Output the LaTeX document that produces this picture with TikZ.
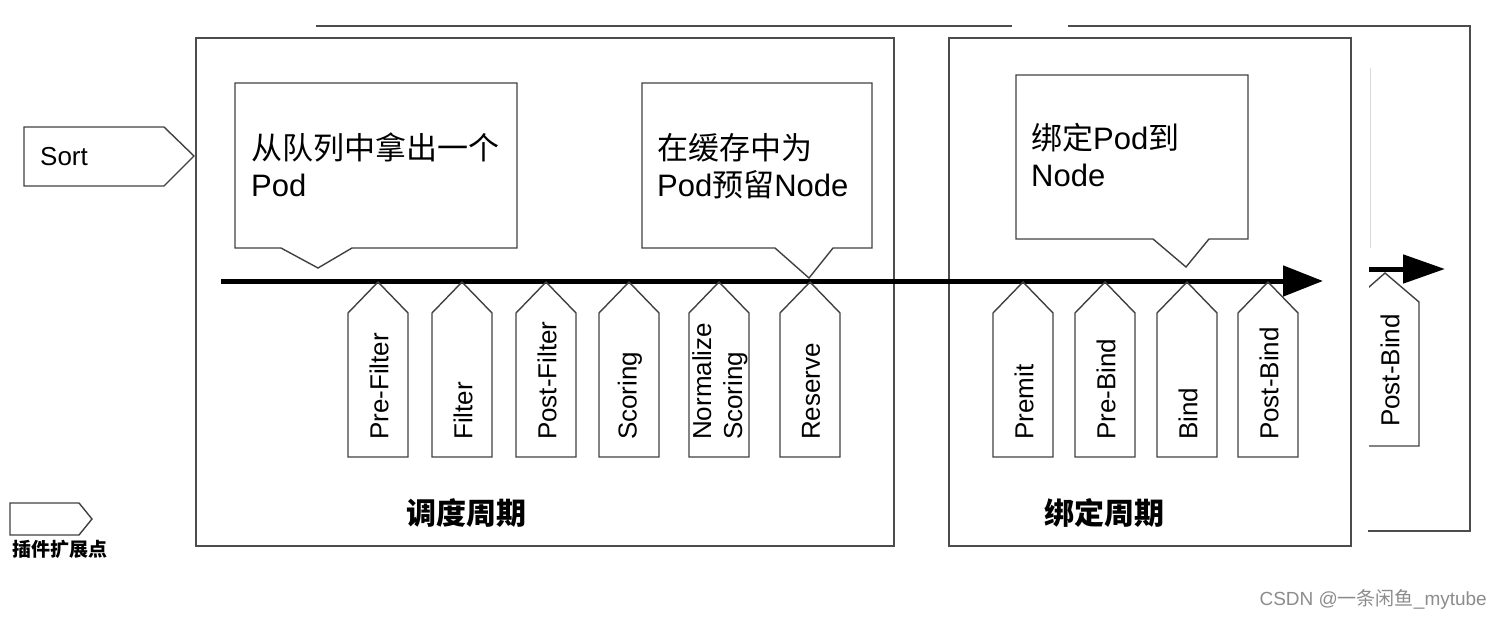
\documentclass[tikz,border=0pt]{standalone}
\usepackage{fontspec}
\setmainfont{Liberation Sans}
\newfontfamily\cjk{Noto Sans CJK SC}
\usetikzlibrary{arrows.meta}

\tikzset{
  frame/.style={draw=black!70, line width=1.6pt},
  outline/.style={draw=black!75, line width=1.4pt, line join=miter},
  tagtext/.style={rotate=90, anchor=west, inner sep=0pt, align=left,
    font=\fontsize{26}{31}\selectfont},
  saytext/.style={anchor=north west, inner sep=0pt, align=left,
    font=\fontsize{31}{37}\selectfont},
  cycletext/.style={inner sep=0pt, font=\fontsize{30}{30}\selectfont\cjk\bfseries},
  flow/.style={line width=5pt, -{Triangle[length=40pt,width=30pt]}},
}

\begin{document}
\begin{tikzpicture}[x=1pt,y=-1pt]
  \useasboundingbox (0,0) rectangle (1502,618);

  % frame of the next cycle, partly hidden
  \draw[frame] (316,26) -- (1012,26);
  \draw[frame] (1068,26) -- (1470,26) -- (1470,531) -- (1368,531);
  \draw[black!15, line width=1pt] (1370,68) -- (1370,248);

  % the two cycles
  \node[frame, anchor=north west, minimum width=698pt, minimum height=508pt] (sched) at (195,37) {};
  \node[frame, anchor=north west, minimum width=402pt, minimum height=508pt] (bind) at (948,37) {};
  \node[cycletext] (schedlabel) at (466,513) {调度周期};
  \node[cycletext] (bindlabel) at (1104,513) {绑定周期};

  % sort
  \draw[outline] (24,127) -- (164,127) -- (194,156) -- (164,186) -- (24,186) -- cycle;
  \node[anchor=west, inner sep=0pt, font=\fontsize{26}{26}\selectfont] (sort) at (40,157) {Sort};

  % legend
  \draw[outline] (10,503) -- (79,503) -- (92,519) -- (79,535) -- (10,535) -- cycle;
  \node[inner sep=0pt, font=\fontsize{19}{19}\selectfont\cjk\bfseries] (legend) at (60,549) {插件扩展点};

  % callouts
  \draw[outline] (235,83) -- (517,83) -- (517,248) -- (352,248) -- (318,268) -- (281,248) -- (235,248) -- cycle;
  \node[saytext] (say1) at (251,133) {{\cjk 从队列中拿出一个}\\Pod};
  \draw[outline] (642,83) -- (872,83) -- (872,248) -- (833,248) -- (809,278) -- (775,248) -- (642,248) -- cycle;
  \node[saytext] (say2) at (657,133) {{\cjk 在缓存中为}\\Pod{\cjk 预留}Node};
  \draw[outline] (1016,75) -- (1248,75) -- (1248,239) -- (1209,239) -- (1186,267) -- (1153,239) -- (1016,239) -- cycle;
  \node[saytext] (say3) at (1031,123) {{\cjk 绑定}Pod{\cjk 到}\\Node};

  % main flow
  \coordinate (flowstart) at (221,281);
  \coordinate (flowend) at (1323,281);
  \draw[flow] (flowstart) -- (flowend);

  % extension points
  \foreach \x/\name/\txt in {378/prefilter/Pre-Filter, 462/filter/Filter,
      546/postfilter/Post-Filter, 629/scoring/Scoring,
      719/normalize/{Normalize\\Scoring}, 810/reserve/Reserve,
      1023/premit/Premit, 1105/prebind/Pre-Bind, 1187/bindpt/Bind,
      1268/postbind/Post-Bind}{
    \draw[outline] (\x-30,457) -- (\x-30,313) -- (\x,282) -- (\x+30,313) -- (\x+30,457) -- cycle;
    \node[tagtext] (\name) at (\x+1,440) {\txt};
  }

  % next cycle, cut off
  \begin{scope}
    \clip (1369,240) rectangle (1469,470);
    \coordinate (nextstart) at (1366,269);
    \coordinate (nextend) at (1445,269);
    \draw[flow, -{Triangle[length=42pt,width=28pt]}] (nextstart) -- (nextend);
    \draw[outline] (1352,446) -- (1352,302) -- (1385,273) -- (1419,302) -- (1419,446) -- cycle;
    \node[tagtext] (postbindnext) at (1390,427) {Post-Bind};
  \end{scope}

  % watermark
  \node[anchor=east, inner sep=0pt, text=black!45, font=\fontsize{19}{19}\selectfont] (mark) at (1487,599)
    {CSDN @{\cjk 一条闲鱼}\_mytube};
\end{tikzpicture}
\end{document}
